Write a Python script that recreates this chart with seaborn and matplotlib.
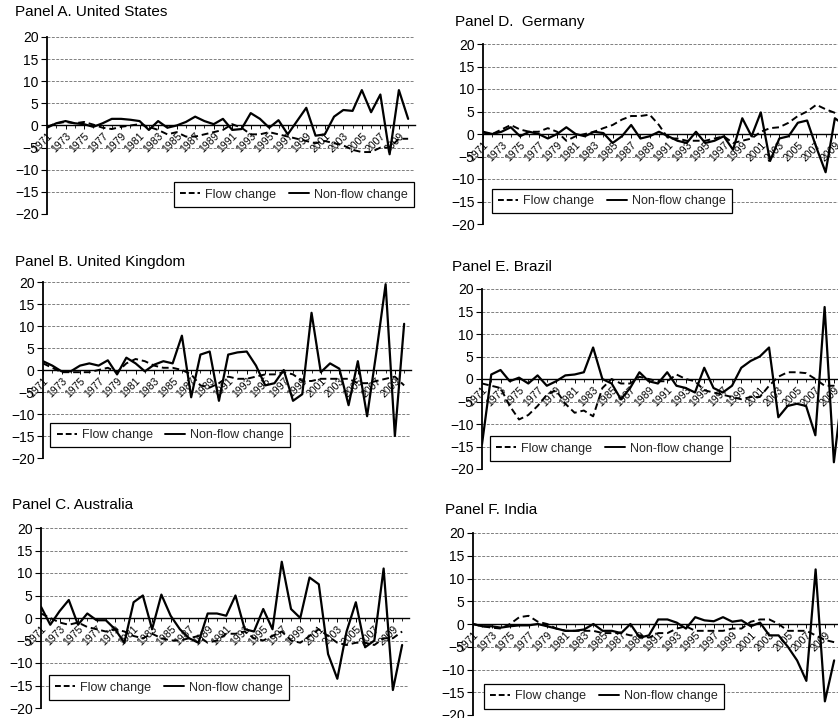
import matplotlib
matplotlib.use("Agg")
import matplotlib.pyplot as plt
import seaborn as sns
import pandas as pd
from matplotlib.lines import Line2D

years = list(range(1971, 2011))
tick_years = list(range(1971, 2010, 2))
y_ticks = [-20, -15, -10, -5, 0, 5, 10, 15, 20]

us_flow = [-0.3, 0.5, 0.8, 0.5, 0.8, 0.2, -0.5, -0.8, -0.3, 0.0,
           0.3, -0.3, -1.0, -2.0, -1.5, -2.5, -2.5, -2.0, -1.5, -1.0,
           0.3, -0.5, -2.0, -2.0, -1.5, -2.0, -2.5, -3.0, -3.5, -4.0,
           -3.5, -4.0, -4.5, -5.5, -6.0, -6.0, -5.0, -5.0, -3.0, -3.0]
us_nonflow = [-0.5, 0.5, 1.0, 0.5, 0.3, -0.3, 0.5, 1.5, 1.5, 1.3,
              1.0, -1.0, 1.0, -0.5, 0.0, 0.8, 2.0, 1.0, 0.3, 1.5,
              -1.0, -0.8, 2.8, 1.5, -0.5, 1.2, -2.0, 1.0, 4.0, -2.3,
              -2.0, 2.0, 3.5, 3.3, 8.0, 3.0, 7.0, -6.5, 8.0, 1.5]

uk_flow = [1.5, 0.5, -0.5, -0.5, -0.5, -0.5, 0.0, 0.5, -0.5, 1.5,
           2.5, 2.0, 1.0, 0.5, 0.5, 0.0, -1.0, -3.5, -4.0, -3.0,
           -1.5, -2.0, -2.0, -1.5, -1.0, -1.0, -0.5, -1.0, -2.5, -2.5,
           -2.0, -2.0, -2.0, -2.0, -3.0, -3.0, -2.5, -2.0, -1.5, -3.5]
uk_nonflow = [2.0, 1.0, -0.3, -0.3, 1.0, 1.5, 1.0, 2.2, -1.0, 2.8,
              1.5, -0.3, 1.2, 2.0, 1.5, 7.8, -6.2, 3.5, 4.2, -7.0,
              3.5, 4.0, 4.2, 1.0, -3.5, -3.0, 0.0, -7.0, -5.5, 13.0,
              -0.5, 1.5, 0.3, -8.0, 2.0, -10.5, 4.0, 19.5, -15.0, 10.5]

au_flow = [1.0, 0.0, -1.0, -1.5, -1.0, -2.0, -2.5, -3.0, -2.5, -3.0,
           -4.0, -4.5, -3.5, -4.5, -5.0, -5.0, -4.5, -4.0, -5.5, -5.0,
           -3.5, -3.5, -3.0, -4.5, -5.0, -4.0, -3.0, -5.0, -5.5, -4.0,
           -2.5, -4.0, -5.5, -6.0, -5.5, -5.5, -6.0, -4.5, -4.5, -3.0]
au_nonflow = [2.5, -1.5, 1.5, 4.0, -1.5, 1.0, -0.5, -0.5, -2.5, -5.5,
              3.5, 5.0, -2.5, 5.2, 0.5, -2.5, -4.5, -5.5, 1.0, 1.0,
              0.5, 5.0, -2.5, -3.0, 2.0, -2.5, 12.5, 2.0, 0.0, 9.0,
              7.5, -8.0, -13.5, -3.0, 3.5, -6.5, -5.0, 11.0, -16.0, -6.0]

de_flow = [0.3, 0.0, 1.0, 2.0, 1.0, 0.5, 0.5, 1.3, 0.5, -1.5,
           -0.5, 0.0, 0.5, 1.3, 2.0, 3.2, 4.0, 4.0, 4.3, 2.0,
           -1.0, -1.0, -1.5, -1.5, -1.5, -1.0, -0.5, -2.0, -1.5, -1.0,
           0.5, 1.3, 1.5, 2.5, 4.0, 5.0, 6.5, 5.5, 4.7, 4.5]
de_nonflow = [0.5, 0.0, 0.5, 1.5, -0.5, 0.5, 0.0, -1.0, 0.0, 1.5,
              0.0, -0.5, 0.5, 0.2, -2.0, -0.5, 2.0, -1.0, -0.5, 0.5,
              -0.5, -1.5, -2.0, 0.5, -2.0, -1.5, -0.5, -3.5, 3.5, -0.5,
              4.8, -6.0, -1.0, -0.5, 2.5, 3.0, -3.0, -8.5, 3.5, 2.0]

br_flow = [-1.0, -1.5, -2.0, -6.0, -9.0, -8.0, -6.0, -3.5, -2.5, -5.5,
           -7.5, -7.0, -8.3, -2.0, 0.0, -1.0, -1.0, 0.5, 0.0, -0.5,
           -0.5, 1.0, 0.0, -0.5, -2.5, -3.0, -3.5, -4.0, -4.5, -4.0,
           -4.0, -1.5, 0.5, 1.5, 1.5, 1.3, 0.0, -1.5, -1.5, -2.0]
br_nonflow = [-14.5, 1.0, 2.0, -0.5, 0.3, -1.0, 0.8, -1.5, -0.5, 0.8,
              1.0, 1.5, 7.0, 0.0, -1.0, -4.5, -2.0, 1.5, -0.5, -1.0,
              1.5, -1.5, -2.0, -3.0, 2.5, -2.0, -3.0, -1.5, 2.5, 4.0,
              5.0, 7.0, -8.5, -6.0, -5.5, -6.0, -12.5, 16.0, -18.5, -1.0]

in_flow = [0.0, -0.5, -0.8, -1.0, 0.0, 1.5, 1.8, 0.5, 0.0, -1.0,
           -1.5, -1.5, -1.5, -1.5, -2.0, -2.0, -2.0, -2.5, -2.5, -3.0,
           -2.0, -2.0, -1.0, -0.5, -1.5, -1.5, -1.5, -1.5, -1.0, -1.0,
           0.5, 1.0, 1.0, 0.0, -1.5, -1.5, -1.5, -2.5, -3.5, -4.0]
in_nonflow = [0.0, -0.5, -0.5, -0.8, -0.5, -0.3, -0.3, 0.0, -0.5, -1.0,
              -1.5, -1.5, -1.2, 0.0, -1.5, -1.5, -2.0, 0.0, -3.0, -2.5,
              1.0, 1.0, 0.3, -1.0, 1.5, 0.8, 0.6, 1.5, 0.5, 0.8,
              -0.5, 0.3, -2.5, -2.5, -5.0, -8.0, -12.5, 12.0, -17.0, -8.0]

sns.set_style("white")
plt.rcParams["font.family"] = ["Liberation Sans", "DejaVu Sans"]

W, H = 838, 718
fig = plt.figure(figsize=(W / 100, H / 100), dpi=100)

SP = 9.26  # px per year
panels = [
    ("Panel A. United States", us_flow, us_nonflow, 47, 37, 214, (15, 12), (0.345, 0.04)),
    ("Panel B. United Kingdom", uk_flow, uk_nonflow, 43, 282, 458, (15, 262), (0.02, 0.06)),
    ("Panel C. Australia", au_flow, au_nonflow, 41, 528, 708, (12, 505), (0.022, 0.045)),
    ("Panel D.  Germany", de_flow, de_nonflow, 483, 44, 224, (455, 22), (0.025, 0.06)),
    ("Panel E. Brazil", br_flow, br_nonflow, 482, 289, 469, (452, 267), (0.022, 0.045)),
    ("Panel F. India", in_flow, in_nonflow, 473, 533, 715, (445, 510), (0.03, 0.035)),
]

x_lo, x_hi = 1971.0, 2010.7

for title, flow, nonflow, xl, yt, yb, tpos, lpos in panels:
    wpx = (x_hi - x_lo) * SP
    ax = fig.add_axes([xl / W, 1 - yb / H, wpx / W, (yb - yt) / H])
    df = pd.DataFrame({"year": years, "flow": flow, "nonflow": nonflow})
    sns.lineplot(data=df, x="year", y="flow", ax=ax, color="black",
                 linewidth=1.4, linestyle=(0, (3.5, 2)), zorder=3)
    sns.lineplot(data=df, x="year", y="nonflow", ax=ax, color="black",
                 linewidth=1.6, zorder=4)
    ax.spines["top"].set_visible(False)
    ax.spines["right"].set_visible(False)
    ax.spines["bottom"].set_position(("data", 0))
    ax.spines["bottom"].set_linewidth(1.0)
    ax.spines["bottom"].set_color("black")
    ax.spines["left"].set_linewidth(1.3)
    ax.spines["left"].set_color("black")
    ax.set_xlim(x_lo, x_hi)
    ax.set_ylim(-20, 20)
    ax.set_yticks(y_ticks)
    ax.set_yticklabels([str(v).replace("-", "\u2212") for v in y_ticks])
    ax.set_xticks(tick_years)
    ax.set_xticks([y for y in years if y not in tick_years], minor=True)
    ax.set_xticklabels([str(y) for y in tick_years])
    ax.set_xlabel("")
    ax.set_ylabel("")
    for yv in y_ticks:
        if yv != 0:
            ax.axhline(yv, color="#808080", linewidth=0.7,
                       linestyle=(0, (3, 1.5)), zorder=1)
    ax.tick_params(axis="y", direction="out", length=4, width=0.8,
                   labelsize=10, pad=2, colors="black", left=True)
    ax.tick_params(axis="x", which="major", direction="out", length=3,
                   width=0.7, labelsize=7.5, pad=1, colors="black", bottom=True)
    ax.tick_params(axis="x", which="minor", direction="out", length=2,
                   width=0.7, bottom=True)
    for lab in ax.get_xticklabels():
        lab.set_rotation(45)
        lab.set_ha("right")
        lab.set_va("top")
        lab.set_rotation_mode("anchor")
    handles = [Line2D([], [], color="black", linewidth=1.4, linestyle=(0, (3, 1.5))),
               Line2D([], [], color="black", linewidth=1.4)]
    leg = ax.legend(handles, ["Flow change", "Non-flow change"], ncol=2,
                    loc="lower left", bbox_to_anchor=lpos, borderaxespad=0,
                    fontsize=9, frameon=True, fancybox=False,
                    handlelength=1.6, handletextpad=0.4, columnspacing=1.0,
                    borderpad=0.5)
    fr = leg.get_frame()
    fr.set_edgecolor("black")
    fr.set_linewidth(0.9)
    fr.set_facecolor("white")
    fr.set_alpha(1)
    leg.set_zorder(6)
    fig.text(tpos[0] / W, 1 - tpos[1] / H, title, ha="left", va="center",
             fontsize=11, color="black")

fig.savefig("out.png", dpi=100, facecolor="white")
